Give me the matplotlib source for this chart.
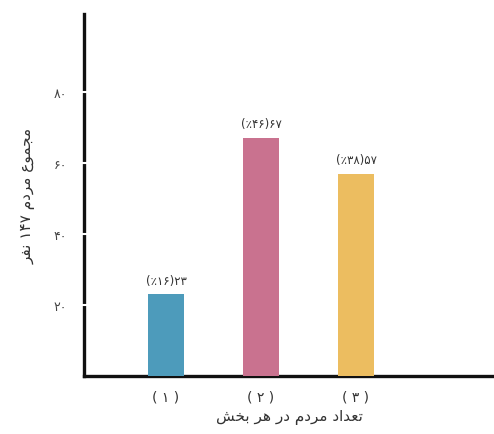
import matplotlib
matplotlib.use('Agg')
import matplotlib.pyplot as plt

# data
sections = ['1', '2', '3']
people = [23, 67, 57]
percent = [16, 46, 38]
yticks = [20, 40, 60, 80]
colors = ['#4d9bbb', '#c9728f', '#ecbd60']

fa_digits = str.maketrans('0123456789', '۰۱۲۳۴۵۶۷۸۹')

def fa(n):
    return str(n).translate(fa_digits)

# tiny arabic shaper (matplotlib has no text shaping / bidi)
forms = {
    'ا': ('\uFE8D', '\uFE8E', None, None),
    'ب': ('\uFE8F', '\uFE90', '\uFE91', '\uFE92'),
    'ت': ('\uFE95', '\uFE96', '\uFE97', '\uFE98'),
    'ج': ('\uFE9D', '\uFE9E', '\uFE9F', '\uFEA0'),
    'خ': ('\uFEA5', '\uFEA6', '\uFEA7', '\uFEA8'),
    'د': ('\uFEA9', '\uFEAA', None, None),
    'ر': ('\uFEAD', '\uFEAE', None, None),
    'ش': ('\uFEB5', '\uFEB6', '\uFEB7', '\uFEB8'),
    'ع': ('\uFEC9', '\uFECA', '\uFECB', '\uFECC'),
    'ف': ('\uFED1', '\uFED2', '\uFED3', '\uFED4'),
    'م': ('\uFEE1', '\uFEE2', '\uFEE3', '\uFEE4'),
    'ن': ('\uFEE5', '\uFEE6', '\uFEE7', '\uFEE8'),
    'ه': ('\uFEE9', '\uFEEA', '\uFEEB', '\uFEEC'),
    'و': ('\uFEED', '\uFEEE', None, None),
}

def joins_fwd(c):
    return c in forms and forms[c][2] is not None

def shape_word(w):
    if all(c not in forms for c in w):
        return w
    out = []
    for i, c in enumerate(w):
        if c not in forms:
            out.append(c)
            continue
        prev = i > 0 and joins_fwd(w[i - 1])
        nxt = i < len(w) - 1 and w[i + 1] in forms and joins_fwd(c)
        iso, fin, ini, med = forms[c]
        if prev and nxt:
            out.append(med)
        elif prev:
            out.append(fin)
        elif nxt:
            out.append(ini)
        else:
            out.append(iso)
    return ''.join(reversed(out))

def rtl(text):
    return ' '.join(shape_word(w) for w in reversed(text.split(' ')))

ylabel = rtl('مجموع مردم ' + fa(147) + ' نفر')
xlabel = rtl('تعداد مردم در هر بخش')

plt.rcParams['font.family'] = ['DejaVu Sans']

fig = plt.figure(figsize=(4.94, 4.35), dpi=100)
ax = fig.add_axes([0.170, 0.1333, 0.830, 0.832])

x = [1, 2, 3]
ax.bar(x, people, width=0.37, color=colors, zorder=2)
for xi, v, p in zip(x, people, percent):
    ax.text(xi, v + 2.2, '(٪' + fa(p) + ')' + fa(v), ha='center', va='bottom',
            fontsize=8.5, color='#333333')

ax.set_xlim(0.137, 4.453)
ax.set_ylim(0, 102)
ax.set_yticks(yticks)
ax.set_yticklabels([fa(t) for t in yticks], fontsize=9, color='#444444')
ax.set_xticks(x)
ax.set_xticklabels(['( ' + fa(s) + ' )' for s in sections], fontsize=10, color='#333333')

for s in ['top', 'right']:
    ax.spines[s].set_visible(False)
for s in ['left', 'bottom']:
    ax.spines[s].set_linewidth(2.4)
    ax.spines[s].set_color('#111111')
    ax.spines[s].set_zorder(1)
ax.yaxis.set_zorder(3)

ax.tick_params(axis='y', direction='inout', length=6, width=1.5, color='white', pad=9)
ax.tick_params(axis='x', length=0, pad=10)

ax.set_ylabel(ylabel, fontsize=11, color='#333333', labelpad=13)
ax.set_xlabel(xlabel, fontsize=11, color='#333333', labelpad=4)

fig.savefig('out.png', dpi=100)
